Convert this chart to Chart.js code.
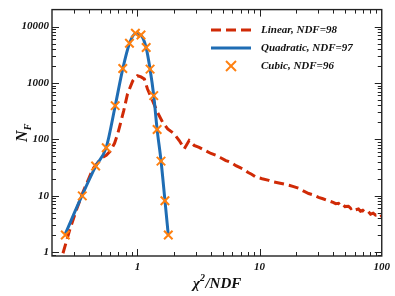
<!DOCTYPE html>
<html lang="en">
<head>
    <meta charset="UTF-8">
    <title>Chi2/NDF distribution</title>
    <script src="https://cdn.jsdelivr.net/npm/chart.js"></script>
    <style>
        body { margin: 0; background: #fff; }
        canvas { display: block; }
    </style>
</head>
<body>
    <canvas id="chi2Chart" width="395" height="296"></canvas>
    <script>
        // values
        const fitX = [0.257, 0.354, 0.455, 0.556, 0.658, 0.759, 0.861, 0.963, 1.07, 1.18, 1.27, 1.36, 1.45, 1.56, 1.68, 1.79];
        const quadY = [2.1, 10.3, 33, 72, 390, 1780, 5000, 7450, 7000, 4200, 1750, 600, 150, 42, 8.3, 2.0];
        const cubicY = [2.0, 9.9, 33.5, 71, 395, 1800, 5070, 7600, 7100, 4250, 1760, 595, 149, 41, 8.1, 2.0];

        const linX = [0.246, 0.279, 0.316, 0.358, 0.40, 0.432, 0.48, 0.522, 0.556, 0.60, 0.65, 0.69, 0.713, 0.773, 0.83, 0.916, 1.0, 1.07, 1.14, 1.21, 1.33, 1.46, 1.61, 1.77, 2.0, 2.2, 2.42, 2.65, 2.91, 3.2, 3.6, 4.0, 4.4, 4.8, 5.3, 5.8, 6.4, 7.0, 7.5, 8.0, 8.6, 9.3, 10.5, 11.9, 13, 14.4, 16, 17.4, 19, 20.9, 23, 25.2, 27.5, 30.4, 33, 36.7, 40, 42, 44.3, 46, 48, 50, 53.4, 56, 58, 61, 64.5, 67, 70, 74, 77.8, 81, 85, 89, 93.8, 97, 100];
        const linY = [0.95, 2.45, 5.5, 11.5, 20, 30, 40, 48, 52, 62, 85, 125, 163, 322, 640, 1090, 1340, 1280, 1170, 780, 485, 300, 200, 153, 125, 95, 68, 95, 78, 72, 63, 56, 52, 47, 42, 39, 34, 31, 29, 26, 24, 21.5, 20, 18.7, 17.5, 16.8, 16, 15.3, 14.5, 13.5, 12, 10.9, 10.3, 9.3, 8.8, 8.1, 7.6, 7.2, 7.3, 6.7, 7.0, 6.4, 6.5, 5.9, 6.2, 5.6, 5.8, 5.3, 5.5, 5.0, 5.2, 4.7, 4.9, 4.5, 4.6, 4.2, 4.4];

        const xTicks = [1, 10, 100];
        const yTicks = [1, 10, 100, 1000, 10000];

        const legendItems = [
            { text: 'Linear, NDF=98', kind: 'dash' },
            { text: 'Quadratic, NDF=97', kind: 'line' },
            { text: 'Cubic, NDF=96', kind: 'cross' }
        ];

        const RED = '#d02a06';
        const BLUE = '#1f6db4';
        const ORANGE = '#ff8010';
        const SERIF = '"Liberation Serif", "DejaVu Serif", serif';

        const toPoints = (xs, ys) => xs.map((x, i) => ({ x: x, y: ys[i] }));

        // inward ticks on all four sides, frame, axis titles and legend
        const framePlugin = {
            id: 'frame',
            afterDraw(chart) {
                const { ctx, chartArea: a, scales: { x, y } } = chart;
                ctx.save();
                ctx.strokeStyle = '#222';
                ctx.lineWidth = 1;
                const line = (x1, y1, x2, y2) => {
                    ctx.beginPath(); ctx.moveTo(x1, y1); ctx.lineTo(x2, y2); ctx.stroke();
                };
                for (let e = -1; e <= 2; e++) {
                    for (let m = 1; m <= 9; m++) {
                        const v = m * Math.pow(10, e);
                        if (v <= x.min || v >= x.max) continue;
                        const px = Math.round(x.getPixelForValue(v)) + 0.5;
                        const len = m === 1 ? 7 : 4;
                        line(px, a.bottom, px, a.bottom - len);
                        line(px, a.top, px, a.top + len);
                    }
                }
                for (let e = -1; e <= 4; e++) {
                    for (let m = 1; m <= 9; m++) {
                        const v = m * Math.pow(10, e);
                        if (v <= y.min || v >= y.max) continue;
                        const py = Math.round(y.getPixelForValue(v)) + 0.5;
                        const len = m === 1 ? 7 : 4;
                        line(a.left, py, a.left + len, py);
                        line(a.right, py, a.right - len, py);
                    }
                }
                ctx.lineWidth = 1.4;
                ctx.strokeRect(a.left, a.top, a.right - a.left, a.bottom - a.top);

                // x title: chi^2/NDF
                ctx.fillStyle = '#111';
                ctx.textBaseline = 'alphabetic';
                const big = 'italic bold 15px ' + SERIF;
                const small = 'italic bold 10px ' + SERIF;
                ctx.font = big;
                const w1 = ctx.measureText('\u03c7').width;
                const w3 = ctx.measureText('/NDF').width;
                ctx.font = small;
                const w2 = ctx.measureText('2').width;
                let tx = (a.left + a.right) / 2 - (w1 + w2 + w3) / 2;
                const ty = 288;
                ctx.font = big; ctx.fillText('\u03c7', tx, ty); tx += w1;
                ctx.font = small; ctx.fillText('2', tx, ty - 7); tx += w2 + 0.5;
                ctx.font = big; ctx.fillText('/NDF', tx, ty);

                // y title: N_F, rotated
                ctx.save();
                ctx.translate(27, (a.top + a.bottom) / 2);
                ctx.rotate(-Math.PI / 2);
                ctx.font = 'italic bold 16px ' + SERIF;
                const wn = ctx.measureText('N').width;
                ctx.font = 'italic bold 10px ' + SERIF;
                const wf = ctx.measureText('F').width;
                let nx = -(wn + wf) / 2;
                ctx.font = 'italic bold 16px ' + SERIF;
                ctx.fillText('N', nx, 0);
                ctx.font = 'italic bold 10px ' + SERIF;
                ctx.fillText('F', nx + wn, 4);
                ctx.restore();

                // legend inside plot area
                const lx0 = 211, lx1 = 251, tX = 261;
                const rowsY = [30, 48, 66];
                ctx.font = 'italic bold 11px ' + SERIF;
                ctx.textBaseline = 'middle';
                legendItems.forEach((item, i) => {
                    const ly = rowsY[i];
                    if (item.kind === 'dash') {
                        ctx.strokeStyle = RED; ctx.lineWidth = 3; ctx.setLineDash([10, 5]);
                        line(lx0, ly, lx1, ly);
                        ctx.setLineDash([]);
                    } else if (item.kind === 'line') {
                        ctx.strokeStyle = BLUE; ctx.lineWidth = 3;
                        line(lx0, ly, lx1, ly);
                    } else {
                        const cx = (lx0 + lx1) / 2, r = 5;
                        ctx.strokeStyle = ORANGE; ctx.lineWidth = 2;
                        line(cx - r, ly - r, cx + r, ly + r);
                        line(cx - r, ly + r, cx + r, ly - r);
                    }
                    ctx.fillStyle = '#111';
                    ctx.fillText(item.text, tX, ly);
                });
                ctx.restore();
            }
        };

        const tickFont = { family: SERIF, size: 11, style: 'italic', weight: 'bold' };

        new Chart(document.getElementById('chi2Chart'), {
            type: 'scatter',
            data: {
                datasets: [
                    {
                        label: 'Cubic, NDF=96',
                        data: toPoints(fitX, cubicY),
                        showLine: false,
                        pointStyle: 'crossRot',
                        pointRadius: 6,
                        pointBorderWidth: 2,
                        borderColor: ORANGE,
                        backgroundColor: ORANGE,
                        order: 0
                    },
                    {
                        label: 'Quadratic, NDF=97',
                        data: toPoints(fitX, quadY),
                        showLine: true,
                        pointRadius: 0,
                        borderColor: BLUE,
                        borderWidth: 3,
                        cubicInterpolationMode: 'monotone',
                        order: 1
                    },
                    {
                        label: 'Linear, NDF=98',
                        data: toPoints(linX, linY),
                        showLine: true,
                        pointRadius: 0,
                        borderColor: RED,
                        borderWidth: 3,
                        borderDash: [10, 5],
                        tension: 0,
                        order: 2
                    }
                ]
            },
            options: {
                responsive: false,
                animation: false,
                layout: { padding: { top: 9, right: 11, left: 0, bottom: 0 } },
                plugins: {
                    legend: { display: false },
                    tooltip: { enabled: false }
                },
                scales: {
                    x: {
                        type: 'logarithmic',
                        min: 0.2,
                        max: 100,
                        grid: { display: false, drawTicks: false },
                        border: { display: false },
                        afterBuildTicks: s => { s.ticks = xTicks.map(v => ({ value: v })); },
                        afterFit: s => { s.height = 40; },
                        ticks: {
                            autoSkip: false,
                            maxRotation: 0,
                            padding: 5,
                            color: '#111',
                            font: tickFont,
                            callback: v => String(v)
                        }
                    },
                    y: {
                        type: 'logarithmic',
                        min: 0.85,
                        max: 20000,
                        grid: { display: false, drawTicks: false },
                        border: { display: false },
                        afterBuildTicks: s => { s.ticks = yTicks.map(v => ({ value: v })); },
                        afterFit: s => { s.width = 52; },
                        ticks: {
                            autoSkip: false,
                            padding: 3,
                            color: '#111',
                            font: tickFont,
                            callback: v => String(v)
                        }
                    }
                }
            },
            plugins: [framePlugin]
        });
    </script>
</body>
</html>
